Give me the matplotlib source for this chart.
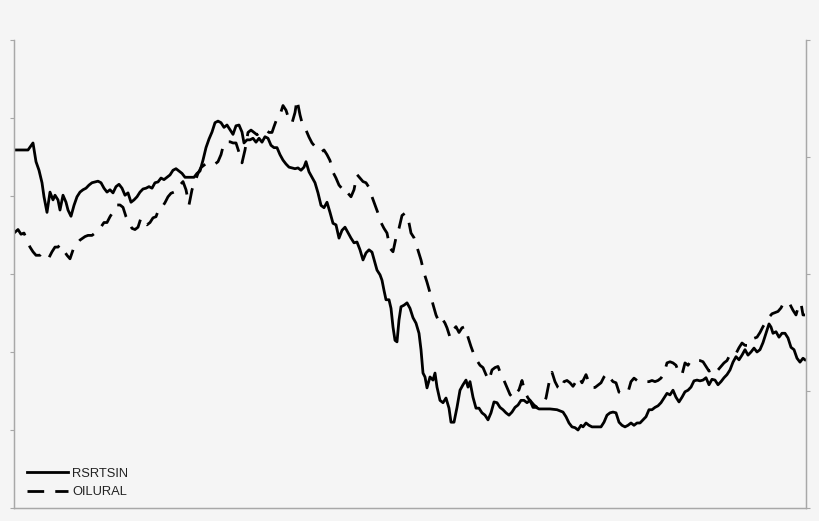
import matplotlib.pyplot as plt

# time index (periods) and levels
rsrtsin_t = [0, 14, 19, 22, 25, 28, 30, 33, 36, 39, 41, 44, 46, 49, 52, 54, 57, 60, 63, 66,
             69, 72, 75, 78, 81, 84, 87, 90, 93, 96, 99, 102, 105, 108, 111, 114, 117, 120, 123, 126,
             129, 132, 135, 138, 141, 144, 147, 150, 153, 156, 159, 162, 165, 168, 171, 174, 177, 180, 183, 186,
             189, 192, 195, 198, 201, 204, 207, 210, 213, 216, 219, 222, 225, 228, 230, 233, 236, 239, 242, 245,
             248, 251, 254, 257, 260, 263, 266, 269, 272, 275, 278, 281, 284, 287, 290, 292, 295, 298, 301, 304,
             307, 310, 313, 316, 319, 322, 325, 328, 331, 334, 337, 340, 343, 346, 349, 352, 355, 358, 361, 363,
             366, 368, 370, 372, 375, 377, 379, 381, 383, 385, 387, 390, 393, 396, 399, 402, 405, 407, 409, 411,
             413, 416, 419, 421, 423, 426, 429, 432, 435, 437, 440, 443, 446, 449, 452, 454, 456, 459, 462, 465,
             468, 471, 474, 477, 480, 483, 486, 489, 492, 495, 498, 501, 504, 507, 510, 513, 516, 519, 522, 525,
             530, 536, 543, 549, 552, 555, 558, 561, 564, 567, 569, 572, 575, 578, 581, 584, 587, 590, 593, 596,
             599, 602, 605, 608, 611, 614, 617, 620, 623, 626, 629, 632, 635, 638, 641, 644, 647, 650, 653, 656,
             659, 662, 665, 668, 671, 674, 677, 680, 683, 686, 689, 692, 695, 698, 701, 704, 707, 710, 713, 716,
             719, 722, 725, 728, 731, 734, 737, 740, 743, 746, 749, 752, 755, 757, 759, 762, 765, 768, 771, 774,
             777, 780, 783, 786, 789, 791]
rsrtsin = [4.59, 4.59, 4.68, 4.44, 4.33, 4.17, 3.99, 3.79, 4.05, 3.95, 4.01, 3.95, 3.82, 4.01, 3.92, 3.82, 3.74, 3.88, 3.99, 4.05,
           4.08, 4.10, 4.14, 4.17, 4.18, 4.19, 4.17, 4.10, 4.05, 4.08, 4.04, 4.12, 4.15, 4.10, 4.01, 4.04, 3.92, 3.95, 3.99, 4.05,
           4.09, 4.10, 4.12, 4.10, 4.17, 4.18, 4.23, 4.21, 4.24, 4.27, 4.33, 4.35, 4.32, 4.29, 4.24, 4.24, 4.24, 4.24, 4.29, 4.32,
           4.46, 4.62, 4.73, 4.82, 4.94, 4.96, 4.94, 4.88, 4.91, 4.85, 4.79, 4.90, 4.91, 4.82, 4.68, 4.72, 4.72, 4.74, 4.69, 4.74,
           4.69, 4.76, 4.74, 4.65, 4.62, 4.62, 4.53, 4.46, 4.41, 4.37, 4.36, 4.35, 4.36, 4.33, 4.37, 4.44, 4.31, 4.24, 4.17, 4.04,
           3.88, 3.85, 3.92, 3.79, 3.65, 3.63, 3.46, 3.56, 3.60, 3.53, 3.46, 3.40, 3.41, 3.31, 3.18, 3.27, 3.31, 3.28, 3.14, 3.05,
           2.99, 2.92, 2.79, 2.67, 2.67, 2.56, 2.32, 2.15, 2.13, 2.41, 2.58, 2.60, 2.63, 2.56, 2.44, 2.37, 2.24, 2.03, 1.73, 1.68,
           1.54, 1.68, 1.64, 1.73, 1.55, 1.38, 1.35, 1.41, 1.28, 1.10, 1.10, 1.29, 1.51, 1.58, 1.64, 1.55, 1.62, 1.42, 1.28, 1.28,
           1.22, 1.19, 1.13, 1.22, 1.36, 1.35, 1.29, 1.26, 1.22, 1.19, 1.23, 1.29, 1.32, 1.38, 1.38, 1.35, 1.38, 1.29, 1.29, 1.27,
           1.27, 1.27, 1.26, 1.23, 1.17, 1.09, 1.04, 1.03, 1.00, 1.06, 1.04, 1.09, 1.06, 1.04, 1.04, 1.04, 1.04, 1.10, 1.19, 1.22,
           1.23, 1.22, 1.10, 1.06, 1.04, 1.06, 1.09, 1.06, 1.09, 1.09, 1.13, 1.17, 1.26, 1.26, 1.29, 1.31, 1.35, 1.41, 1.47, 1.45,
           1.51, 1.42, 1.36, 1.42, 1.49, 1.51, 1.55, 1.63, 1.64, 1.63, 1.64, 1.67, 1.58, 1.65, 1.64, 1.58, 1.62, 1.67, 1.71, 1.77,
           1.87, 1.94, 1.90, 1.96, 2.03, 1.96, 2.00, 2.05, 2.00, 2.03, 2.12, 2.24, 2.36, 2.32, 2.24, 2.26, 2.19, 2.24, 2.24, 2.18,
           2.06, 2.03, 1.92, 1.87, 1.92, 1.90]

oilural_t = [0, 4, 7, 10, 13, 16, 19, 22, 26, 28, 32, 35, 38, 41, 44, 46, 49, 53, 56, 60,
             63, 66, 71, 74, 78, 81, 86, 90, 93, 96, 99, 103, 106, 109, 112, 115, 118, 121, 124, 127,
             130, 133, 136, 139, 142, 145, 148, 151, 154, 157, 160, 163, 166, 169, 172, 175, 178, 181, 184, 187,
             190, 193, 198, 201, 204, 207, 210, 213, 216, 219, 222, 225, 228, 231, 234, 237, 240, 243, 246, 249,
             252, 255, 258, 260, 263, 266, 269, 272, 275, 278, 281, 283, 286, 289, 292, 295, 298, 301, 304, 307,
             310, 313, 316, 319, 322, 325, 328, 331, 334, 337, 340, 343, 346, 349, 352, 355, 358, 361, 364, 367,
             370, 373, 376, 379, 382, 385, 388, 391, 394, 397, 400, 403, 407, 410, 413, 416, 419, 422, 425, 428,
             431, 433, 436, 439, 442, 445, 448, 451, 454, 457, 460, 463, 466, 469, 472, 475, 478, 481, 484, 487,
             490, 493, 496, 499, 502, 505, 508, 511, 514, 517, 520, 523, 526, 529, 532, 535, 538, 541, 544, 547,
             550, 553, 556, 559, 562, 565, 568, 572, 575, 578, 581, 584, 587, 590, 593, 596, 599, 602, 605, 608,
             611, 614, 617, 620, 623, 626, 629, 632, 635, 638, 641, 644, 647, 650, 653, 656, 659, 662, 665, 668,
             671, 674, 677, 680, 683, 686, 689, 692, 695, 698, 701, 704, 707, 710, 713, 716, 719, 722, 725, 728,
             731, 734, 737, 740, 743, 746, 749, 752, 755, 758, 761, 764, 767, 770, 773, 776, 779, 782, 785, 787,
             789, 791]
oilural = [2.35, 2.38, 2.34, 2.35, 2.29, 2.23, 2.19, 2.16, 2.16, 2.18, 2.16, 2.14, 2.19, 2.23, 2.23, 2.25, 2.21, 2.16, 2.13, 2.23,
           2.26, 2.29, 2.32, 2.33, 2.33, 2.35, 2.39, 2.44, 2.44, 2.49, 2.53, 2.59, 2.59, 2.57, 2.49, 2.44, 2.39, 2.38, 2.40, 2.48,
           2.44, 2.42, 2.44, 2.48, 2.49, 2.56, 2.57, 2.61, 2.66, 2.69, 2.70, 2.74, 2.76, 2.79, 2.72, 2.59, 2.72, 2.79, 2.86, 2.91,
           2.93, 2.95, 2.94, 2.94, 2.96, 3.02, 3.12, 3.13, 3.13, 3.12, 3.12, 3.04, 2.95, 3.06, 3.21, 3.23, 3.21, 3.19, 3.21, 3.21,
           3.23, 3.21, 3.21, 3.26, 3.33, 3.36, 3.44, 3.40, 3.32, 3.29, 3.38, 3.49, 3.36, 3.26, 3.23, 3.17, 3.12, 3.09, 3.06, 3.04,
           3.06, 3.02, 2.97, 2.87, 2.82, 2.76, 2.73, 2.74, 2.69, 2.66, 2.72, 2.85, 2.82, 2.79, 2.78, 2.74, 2.66, 2.59, 2.52, 2.44,
           2.39, 2.35, 2.22, 2.19, 2.31, 2.39, 2.50, 2.52, 2.48, 2.35, 2.31, 2.23, 2.12, 2.01, 1.93, 1.84, 1.74, 1.65, 1.59, 1.62,
           1.58, 1.54, 1.46, 1.52, 1.55, 1.50, 1.54, 1.55, 1.46, 1.38, 1.31, 1.26, 1.22, 1.20, 1.14, 1.09, 1.18, 1.20, 1.21, 1.14,
           1.09, 1.03, 0.97, 0.94, 0.98, 1.01, 1.09, 0.99, 0.94, 0.91, 0.88, 0.86, 0.88, 0.89, 0.94, 1.07, 1.16, 1.08, 1.03, 1.01,
           1.08, 1.09, 1.07, 1.04, 1.08, 1.12, 1.07, 1.14, 1.07, 1.03, 1.03, 1.05, 1.07, 1.12, 1.15, 1.11, 1.08, 1.07, 0.99, 0.98,
           0.98, 0.99, 1.08, 1.11, 1.09, 1.08, 1.09, 1.08, 1.08, 1.09, 1.08, 1.09, 1.11, 1.15, 1.24, 1.25, 1.24, 1.22, 1.15, 1.14,
           1.24, 1.22, 1.26, 1.26, 1.26, 1.26, 1.25, 1.21, 1.17, 1.18, 1.21, 1.18, 1.21, 1.24, 1.26, 1.31, 1.33, 1.32, 1.37, 1.41,
           1.39, 1.39, 1.44, 1.45, 1.46, 1.50, 1.55, 1.59, 1.63, 1.66, 1.67, 1.68, 1.71, 1.76, 1.74, 1.74, 1.69, 1.65, 1.74, 1.75,
           1.65, 1.65]

bg = '#f5f5f5'
axis_col = '#a8a8a8'

fig = plt.figure(figsize=(8.2, 5.21), dpi=100, facecolor=bg)
ax = fig.add_axes([14 / 820, 13 / 521, 792 / 820, 468 / 521])
ax.set_facecolor(bg)
ax2 = ax.twinx()

l1, = ax.plot(rsrtsin_t, rsrtsin, color='black', lw=2.0, solid_joinstyle='round', label='RSRTSIN')
l2, = ax2.plot(oilural_t, oilural, color='black', lw=2.0, dashes=(6, 4), label='OILURAL')

ax.set_xlim(0, 792)
ax.set_ylim(0, 6)
ax2.set_ylim(0, 4)
ax.set_yticks(range(7))
ax2.set_yticks(range(5))
ax.set_xticks([])

for a in (ax, ax2):
    a.tick_params(axis='y', direction='out', length=3, width=0.8, color=axis_col, labelleft=False, labelright=False)
    for s in a.spines.values():
        s.set_color(axis_col)
        s.set_linewidth(0.9)
    a.spines['top'].set_visible(False)

leg = ax.legend([l1, l2], ['RSRTSIN', 'OILURAL'], loc='lower left', bbox_to_anchor=(0.0164, 0.021),
                frameon=False, borderpad=0, borderaxespad=0, handlelength=3.2, handletextpad=0.3,
                labelspacing=0.5, prop={'family': 'Liberation Sans', 'size': 9.3})
for txt in leg.get_texts():
    txt.set_color('#222222')

fig.savefig('out.png', dpi=100, facecolor=bg)
